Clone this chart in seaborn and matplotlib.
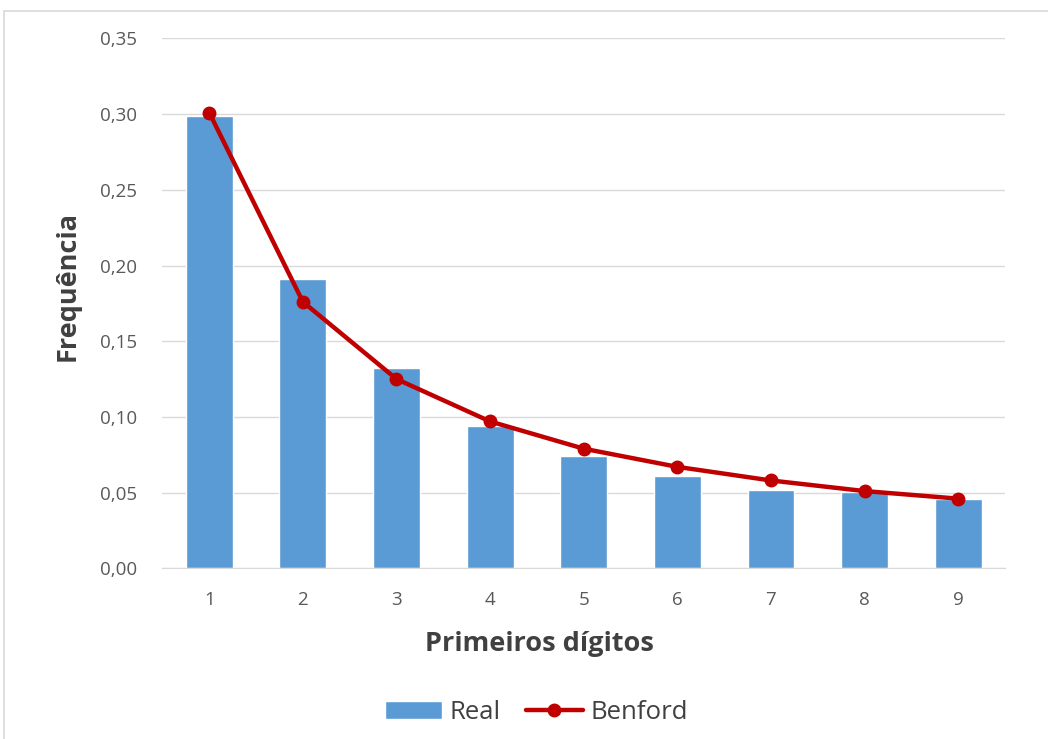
import numpy as np
import pandas as pd
import matplotlib
matplotlib.use('Agg')
import matplotlib.pyplot as plt
import seaborn as sns
from matplotlib.patches import Rectangle
from matplotlib.ticker import FuncFormatter

# dados
digitos = ['1', '2', '3', '4', '5', '6', '7', '8', '9']
real = [0.299, 0.191, 0.132, 0.094, 0.074, 0.061, 0.052, 0.0505, 0.0455]
benford = [0.301, 0.176, 0.125, 0.097, 0.079, 0.067, 0.058, 0.051, 0.046]

sns.set_style('white')
plt.rcParams['font.family'] = ['Open Sans', 'DejaVu Sans']

fig = plt.figure(figsize=(10.48, 7.39), dpi=100)
ax = fig.add_axes([0.155, 0.231, 0.804, 0.717])

df = pd.DataFrame({'digito': digitos, 'real': real, 'benford': benford})
sns.barplot(data=df, x='digito', y='real', color='#5b9bd5', width=0.5,
            saturation=1, ax=ax, label='Real', zorder=2)
pos = np.arange(len(digitos))
ax.plot(pos, df['benford'], color='#c00000', lw=3.2, marker='o', ms=9,
        label='Benford', zorder=3)
if ax.get_legend() is not None:
    ax.get_legend().remove()

ax.set_ylim(0, 0.35)
ax.set_xlim(-0.5, len(digitos) - 0.5)
ax.set_yticks(np.arange(0, 0.351, 0.05))
ax.yaxis.set_major_formatter(FuncFormatter(lambda v, p: f'{v:.2f}'.replace('.', ',')))
ax.grid(axis='y', color='#d9d9d9', lw=1, zorder=0)
for s in ['top', 'right', 'left']:
    ax.spines[s].set_visible(False)
ax.spines['bottom'].set_color('#d9d9d9')
ax.tick_params(axis='both', length=0, labelsize=13.5, labelcolor='#595959')
ax.tick_params(axis='y', pad=18)
ax.tick_params(axis='x', pad=16)

ax.set_xlabel('Primeiros dígitos', fontsize=19.5, fontweight='bold', color='#404040')
ax.set_ylabel('Frequência', fontsize=19.5, fontweight='bold', color='#404040')
ax.xaxis.set_label_coords(0.448, -0.118)
ax.yaxis.set_label_coords(-0.097, 0.532)

h, l = ax.get_legend_handles_labels()
order = [l.index('Real'), l.index('Benford')]
fig.legend([h[i] for i in order], [l[i] for i in order], loc='lower center',
           bbox_to_anchor=(0.512, -0.012), ncol=2, frameon=False,
           fontsize=18.5, labelcolor='#404040', handlelength=2.2, handletextpad=0.3,
           columnspacing=1.0)

fig.patches.append(Rectangle((0.004, -0.01), 1.1, 0.995, transform=fig.transFigure,
                             fill=False, edgecolor='#d9d9d9', lw=1.2))

fig.savefig('out.png', dpi=100)
